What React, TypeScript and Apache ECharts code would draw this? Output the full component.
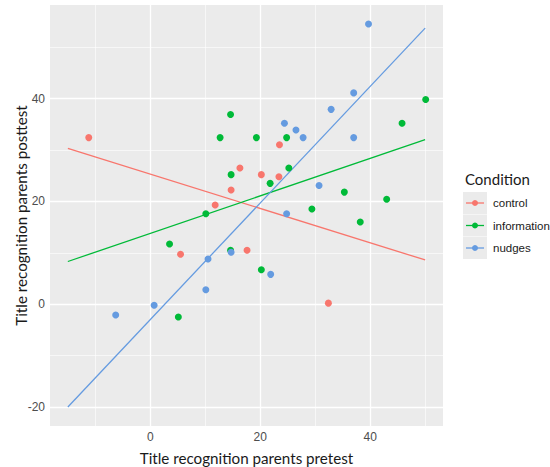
import React, { useEffect, useRef } from "react";
import * as echarts from "echarts";

const categories = ["control", "information", "nudges"];
const colors = ["#F8766D", "#00BA38", "#659BE0"];

const controlPoints: [number, number][] = [
  [-11.2, 32.4], [23.5, 31.0], [16.3, 26.5], [20.2, 25.2], [23.4, 24.8],
  [14.7, 22.2], [11.8, 19.3], [5.5, 9.7], [17.6, 10.5], [32.4, 0.2],
];
const informationPoints: [number, number][] = [
  [14.6, 36.9], [12.7, 32.4], [19.3, 32.4], [24.8, 32.4], [14.7, 25.2],
  [21.8, 23.5], [10.1, 17.6], [50.1, 39.8], [45.8, 35.2], [25.2, 26.5],
  [35.3, 21.8], [43.0, 20.4], [29.4, 18.5], [38.2, 16.0], [3.5, 11.7],
  [14.6, 10.5], [20.2, 6.7], [5.1, -2.5],
];
const nudgesPoints: [number, number][] = [
  [39.7, 54.5], [37.0, 41.1], [32.9, 37.9], [24.4, 35.2], [26.5, 33.9],
  [27.8, 32.4], [37.0, 32.4], [30.7, 23.1], [24.8, 17.6], [14.7, 10.1],
  [10.5, 8.8], [21.9, 5.8], [10.1, 2.8], [0.7, -0.2], [-6.3, -2.1],
];
const controlFit: [number, number][] = [[-15, 30.3], [50, 8.6]];
const informationFit: [number, number][] = [[-15, 8.3], [50, 32.0]];
const nudgesFit: [number, number][] = [[-15, -20.0], [50, 53.7]];

const xTicks = [0, 20, 40];
const yTicks = [-20, 0, 20, 40];
const xMinor = [-10, 10, 30, 50];
const yMinor = [-10, 10, 30, 50];

const xTitle = "Title recognition parents pretest";
const yTitle = "Title recognition parents posttest";
const legendTitle = "Condition";

export default function App() {
  const ref = useRef<HTMLDivElement>(null);
  useEffect(() => {
    if (!ref.current) return;
    const chart = echarts.init(ref.current, null, { renderer: "svg" });
    const points = [controlPoints, informationPoints, nudgesPoints];
    const fits = [controlFit, informationFit, nudgesFit];

    const gridLines = [
      ...xMinor.map((v) => ({ xAxis: v, lineStyle: { width: 0.6 } })),
      ...yMinor.map((v) => ({ yAxis: v, lineStyle: { width: 0.6 } })),
      ...xTicks.map((v) => ({ xAxis: v, lineStyle: { width: 1.3 } })),
      ...yTicks.map((v) => ({ yAxis: v, lineStyle: { width: 1.3 } })),
    ];

    const legendX = 463;
    const legendY0 = 203;
    const legendStep = 22.5;
    const legendGraphics: any[] = [
      {
        type: "text",
        left: legendX + 2,
        top: 171,
        style: { text: legendTitle, font: "15px Lato", fill: "#1A1A1A" },
      },
    ];
    categories.forEach((c, i) => {
      const cy = legendY0 + i * legendStep;
      legendGraphics.push(
        { type: "rect", shape: { x: legendX, y: cy - 11, width: 24, height: 22 }, style: { fill: "#EBEBEB" } },
        { type: "line", shape: { x1: legendX + 3, y1: cy, x2: legendX + 21, y2: cy }, style: { stroke: colors[i], lineWidth: 1.3 } },
        { type: "circle", shape: { cx: legendX + 12, cy, r: 3 }, style: { fill: colors[i] } },
        {
          type: "text",
          x: legendX + 30,
          y: cy,
          style: { text: c, font: "11.5px 'Liberation Sans'", fill: "#1A1A1A", verticalAlign: "middle" },
        }
      );
    });

    chart.setOption({
      animation: false,
      backgroundColor: "#FFFFFF",
      grid: {
        left: 50,
        right: 107,
        top: 5,
        bottom: 41,
        containLabel: false,
        outerBoundsMode: "none",
        show: true,
        backgroundColor: "#EBEBEB",
        borderWidth: 0,
      },
      xAxis: {
        type: "value",
        min: -18.25,
        max: 53.25,
        name: xTitle,
        nameLocation: "middle",
        nameMoveOverlap: false,
        nameGap: 24,
        nameTextStyle: { fontFamily: "Lato", fontSize: 15.2, color: "#1A1A1A" },
        axisLine: { show: false },
        splitLine: { show: false },
        axisTick: { show: true, customValues: xTicks, length: 4, lineStyle: { color: "#333333" } },
        axisLabel: {
          customValues: xTicks,
          margin: 5,
          fontFamily: "Liberation Sans",
          fontSize: 12,
          color: "#4D4D4D",
        },
      },
      yAxis: {
        type: "value",
        min: -23.7,
        max: 58.2,
        name: yTitle,
        nameLocation: "middle",
        nameMoveOverlap: false,
        nameGap: 22,
        nameTextStyle: { fontFamily: "Lato", fontSize: 15.2, color: "#1A1A1A" },
        axisLine: { show: false },
        splitLine: { show: false },
        axisTick: { show: true, customValues: yTicks, length: 4, lineStyle: { color: "#333333" } },
        axisLabel: {
          customValues: yTicks,
          margin: 5,
          fontFamily: "Liberation Sans",
          fontSize: 12,
          color: "#4D4D4D",
        },
      },
      graphic: legendGraphics,
      series: [
        {
          type: "line",
          name: "grid",
          data: [],
          silent: true,
          z: 1,
          markLine: {
            silent: true,
            z: 1,
            symbol: "none",
            label: { show: false },
            lineStyle: { color: "#FFFFFF", type: "solid" },
            data: gridLines,
          },
        },
        ...categories.map((c, i) => ({
          type: "line",
          name: c + " fit",
          data: fits[i],
          showSymbol: false,
          symbol: "none",
          z: 3,
          lineStyle: { color: colors[i], width: 1.3 },
        })),
        ...categories.map((c, i) => ({
          type: "scatter",
          name: c,
          data: points[i],
          symbol: "circle",
          symbolSize: 7,
          z: 4,
          itemStyle: { color: colors[i], opacity: 1 },
        })),
      ],
    });
    return () => chart.dispose();
  }, []);
  return (
    <div
      ref={ref}
      style={{ position: "fixed", left: 0, top: 0, width: 550, height: 467 }}
    />
  );
}
